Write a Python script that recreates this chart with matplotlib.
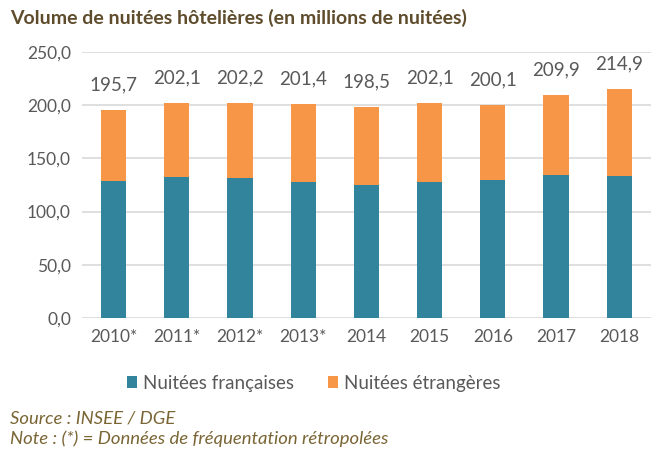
import matplotlib
matplotlib.use('Agg')
import matplotlib.pyplot as plt
import numpy as np

plt.rcParams['font.family'] = ['Lato', 'DejaVu Sans']

# data
years = ['2010*', '2011*', '2012*', '2013*', '2014', '2015', '2016', '2017', '2018']
totals = [195.7, 202.1, 202.2, 201.4, 198.5, 202.1, 200.1, 209.9, 214.9]
francaises = [129.0, 132.6, 131.6, 127.9, 125.0, 127.9, 129.7, 134.6, 133.7]
etrangeres = [t - f for t, f in zip(totals, francaises)]
yticks = [0, 50, 100, 150, 200, 250]

teal = '#31849b'
orange = '#f79646'
grey = '#595959'
brown = '#5e4c2c'

fig = plt.figure(figsize=(6.56, 4.59), dpi=100)
ax = fig.add_axes([0.125, 0.307, 0.867, 0.58])

x = np.arange(len(years))
b1 = ax.bar(x, francaises, width=0.4, color=teal, zorder=2, label='Nuitées françaises')
b2 = ax.bar(x, etrangeres, width=0.4, bottom=francaises, color=orange, zorder=2,
            label='Nuitées étrangères')

for xi, t in zip(x, totals):
    ax.annotate(('%.1f' % t).replace('.', ','), (xi, t), xytext=(0, 12),
                textcoords='offset points', ha='center', va='bottom',
                fontsize=13.5, color=grey)

ax.set_xlim(-0.5, len(years) - 0.5)
ax.set_ylim(0, 250)
ax.set_yticks(yticks)
ax.set_yticklabels([('%.1f' % v).replace('.', ',') for v in yticks])
ax.set_xticks(x)
ax.set_xticklabels(years)
ax.tick_params(axis='both', length=0, labelsize=12.5, labelcolor=grey, pad=8)
ax.yaxis.grid(True, color='#d9d9d9', linewidth=1.2, zorder=0)
for s in ax.spines.values():
    s.set_visible(False)

fig.text(0.015, 0.96, 'Volume de nuitées hôtelières (en millions de nuitées)',
         fontsize=14, fontweight='bold', color=brown, va='center')

fig.legend(handles=[b1, b2], loc='center', bbox_to_anchor=(0.478, 0.165), ncol=2,
           frameon=False, fontsize=13.5, labelcolor=grey, handlelength=0.55,
           handleheight=0.55, handletextpad=0.3, columnspacing=1.8)

fig.text(0.015, 0.088, 'Source : INSEE / DGE', fontsize=13.3, style='italic',
         color='#7a6534', va='center')
fig.text(0.015, 0.045, 'Note : (*) = Données de fréquentation rétropolées', fontsize=13.3,
         style='italic', color='#7a6534', va='center')

fig.savefig('out.png', dpi=100)
